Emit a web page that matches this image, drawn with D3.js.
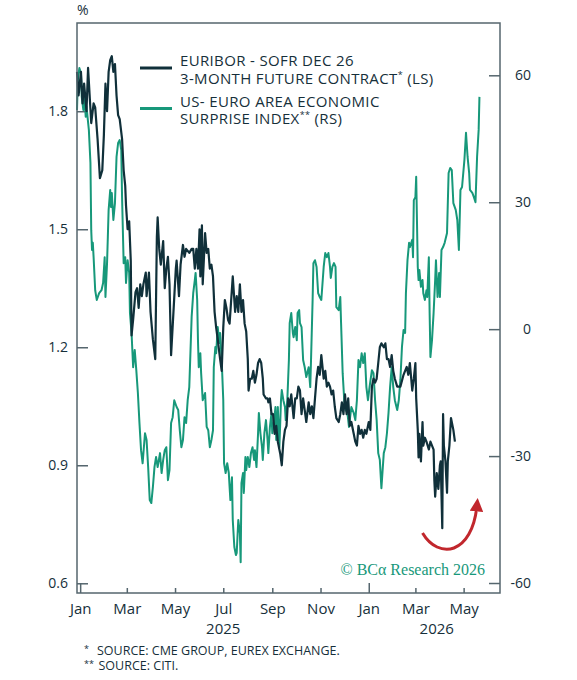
<!DOCTYPE html>
<html>
<head>
<meta charset="utf-8">
<script src="https://cdn.jsdelivr.net/npm/d3@7"></script>
<style>
  body { margin: 0; background: #fff; }
  text { font-family: "Open Sans", "Noto Sans", sans-serif; fill: #162f3a; }
</style>
</head>
<body>
<div id="chart"></div>
<script>
// EURIBOR - SOFR Dec 26 3-month future spread, % (left scale)
var spreadSeries = [
["2024-12-28",1.90],["2024-12-30",1.84],["2025-01-02",1.90],["2025-01-04",1.82],["2025-01-06",1.87],["2025-01-09",1.80],["2025-01-11",1.91],["2025-01-13",1.84],["2025-01-15",1.77],["2025-01-18",1.82],["2025-01-20",1.81],["2025-01-23",1.73],["2025-01-26",1.63],["2025-01-29",1.65],["2025-01-31",1.74],["2025-02-02",1.87],["2025-02-04",1.80],["2025-02-06",1.90],["2025-02-08",1.93],["2025-02-10",1.94],["2025-02-12",1.90],["2025-02-14",1.92],["2025-02-16",1.84],["2025-02-18",1.79],["2025-02-20",1.78],["2025-02-23",1.73],["2025-02-25",1.65],["2025-02-27",1.61],["2025-02-28",1.56],["2025-03-02",1.50],["2025-03-04",1.52],["2025-03-06",1.42],["2025-03-07",1.23],["2025-03-09",1.27],["2025-03-12",1.34],["2025-03-14",1.35],["2025-03-16",1.30],["2025-03-18",1.36],["2025-03-20",1.33],["2025-03-22",1.36],["2025-03-25",1.39],["2025-03-26",1.33],["2025-03-29",1.39],["2025-03-31",1.29],
["2025-04-03",1.22],["2025-04-06",1.17],["2025-04-08",1.48],["2025-04-09",1.53],["2025-04-11",1.45],["2025-04-13",1.41],["2025-04-16",1.47],["2025-04-18",1.35],["2025-04-20",1.40],["2025-04-22",1.43],["2025-04-24",1.36],["2025-04-26",1.18],["2025-05-02",1.40],["2025-05-03",1.42],["2025-05-06",1.33],["2025-05-08",1.41],["2025-05-11",1.46],["2025-05-13",1.43],["2025-05-15",1.45],["2025-05-19",1.44],["2025-05-22",1.45],["2025-05-24",1.45],["2025-05-26",1.40],["2025-05-28",1.45],["2025-05-30",1.40],["2025-06-01",1.50],["2025-06-02",1.38],["2025-06-04",1.51],["2025-06-05",1.36],["2025-06-08",1.49],["2025-06-10",1.44],["2025-06-12",1.45],["2025-06-14",1.40],["2025-06-16",1.41],["2025-06-18",1.38],["2025-06-20",1.29],["2025-06-22",1.25],["2025-06-24",1.22],["2025-06-27",1.17],["2025-06-29",1.14],
["2025-07-01",1.25],["2025-07-03",1.32],["2025-07-05",1.30],["2025-07-07",1.27],["2025-07-09",1.26],["2025-07-11",1.32],["2025-07-13",1.38],["2025-07-16",1.29],["2025-07-18",1.33],["2025-07-20",1.29],["2025-07-22",1.36],["2025-07-24",1.29],["2025-07-26",1.32],["2025-07-28",1.26],["2025-07-30",1.24],["2025-08-01",1.17],["2025-08-02",1.09],["2025-08-04",1.12],["2025-08-06",1.12],["2025-08-08",1.14],["2025-08-10",1.11],["2025-08-12",1.13],["2025-08-14",1.16],["2025-08-16",1.17],["2025-08-18",1.16],["2025-08-20",1.12],["2025-08-21",1.08],["2025-08-24",1.07],["2025-08-26",1.07],["2025-08-27",1.06],["2025-08-29",1.07],["2025-08-31",1.03],["2025-09-02",1.03],["2025-09-04",0.98],["2025-09-06",1.00],["2025-09-08",0.96],["2025-09-11",0.93],["2025-09-13",0.90],["2025-09-15",0.96],["2025-09-17",0.99],["2025-09-19",1.00],["2025-09-21",1.07],["2025-09-23",1.05],["2025-09-25",1.08],["2025-09-28",1.02],["2025-09-30",1.07],
["2025-10-02",1.07],["2025-10-04",1.10],["2025-10-06",1.09],["2025-10-08",1.03],["2025-10-10",1.07],["2025-10-12",1.04],["2025-10-14",1.01],["2025-10-17",1.06],["2025-10-19",1.03],["2025-10-21",1.05],["2025-10-23",1.02],["2025-10-25",1.07],["2025-10-27",1.12],["2025-10-29",1.15],["2025-10-31",1.13],["2025-11-02",1.18],["2025-11-05",1.12],["2025-11-07",1.14],["2025-11-09",1.10],["2025-11-11",1.11],["2025-11-13",1.10],["2025-11-15",1.08],["2025-11-17",1.09],["2025-11-19",1.05],["2025-11-21",1.02],["2025-11-24",1.01],["2025-11-26",1.03],["2025-11-28",1.06],["2025-11-30",1.03],["2025-12-02",1.08],["2025-12-04",1.03],["2025-12-06",1.07],["2025-12-08",1.00],["2025-12-10",1.01],["2025-12-13",0.98],["2025-12-15",0.96],["2025-12-17",0.95],["2025-12-19",1.00],["2025-12-21",0.98],["2025-12-23",0.99],["2025-12-25",0.97],["2025-12-27",0.99],["2025-12-29",0.98],
["2026-01-01",1.01],["2026-01-03",0.99],["2026-01-05",1.10],["2026-01-07",1.12],["2026-01-09",1.11],["2026-01-11",1.12],["2026-01-13",1.16],["2026-01-15",1.20],["2026-01-17",1.21],["2026-01-20",1.20],["2026-01-22",1.21],["2026-01-24",1.17],["2026-01-26",1.17],["2026-01-28",1.15],["2026-01-30",1.18],["2026-02-01",1.14],["2026-02-03",1.12],["2026-02-06",1.10],["2026-02-08",1.10],["2026-02-10",1.10],["2026-02-14",1.13],["2026-02-16",1.14],["2026-02-18",1.15],["2026-02-20",1.13],["2026-02-22",1.16],["2026-02-25",1.09],["2026-02-27",1.12],["2026-03-01",1.16],["2026-03-02",1.07],["2026-03-04",0.99],["2026-03-05",0.92],["2026-03-06",0.98],["2026-03-08",0.91],["2026-03-10",1.01],["2026-03-11",0.95],["2026-03-13",0.97],["2026-03-15",0.96],["2026-03-18",0.94],["2026-03-20",0.96],["2026-03-22",0.95],["2026-03-24",0.94],["2026-03-25",0.86],["2026-03-26",0.82],["2026-03-28",0.88],["2026-03-30",0.84],["2026-04-01",0.90],["2026-04-02",0.91],["2026-04-04",0.74],["2026-04-05",1.03],["2026-04-06",0.95],["2026-04-08",0.91],["2026-04-10",0.83],["2026-04-11",0.91],["2026-04-13",0.95],["2026-04-15",1.02],["2026-04-17",1.00],["2026-04-18",0.99],["2026-04-20",0.96]
];

// US - Euro area economic surprise index (right scale)
var surpriseSeries = [
["2024-12-28",51.8],["2024-12-29",58.9],["2024-12-31",61.7],["2025-01-02",60.5],["2025-01-03",54.9],["2025-01-05",51.8],["2025-01-06",56.5],["2025-01-08",50.2],["2025-01-09",52.6],["2025-01-12",47.1],["2025-01-14",39.3],["2025-01-15",23.4],["2025-01-16",18.7],["2025-01-17",20.4],["2025-01-18",17.0],["2025-01-20",9.2],["2025-01-22",6.9],["2025-01-25",8.5],["2025-01-28",9.2],["2025-01-30",10.9],["2025-02-01",17.0],["2025-02-02",7.6],["2025-02-04",15.6],["2025-02-05",21.8],["2025-02-06",28.2],["2025-02-08",32.9],["2025-02-09",28.9],["2025-02-10",32.2],["2025-02-12",25.8],["2025-02-14",29.8],["2025-02-16",40.7],["2025-02-18",44.0],["2025-02-20",44.7],["2025-02-22",42.3],["2025-02-23",31.2],["2025-02-25",15.6],["2025-02-27",17.0],["2025-02-28",10.9],["2025-03-02",16.3],["2025-03-04",13.3],["2025-03-05",3.8],["2025-03-07",-0.9],["2025-03-09",-9.0],["2025-03-11",-4.9],["2025-03-13",-9.7],["2025-03-15",-15.1],["2025-03-17",-22.2],["2025-03-19",-28.6],["2025-03-21",-31.7],["2025-03-24",-24.6],["2025-03-26",-26.2],["2025-03-28",-32.6],["2025-03-30",-40.4],
["2025-04-01",-41.1],["2025-04-03",-37.3],["2025-04-05",-32.6],["2025-04-07",-30.2],["2025-04-09",-32.6],["2025-04-12",-29.3],["2025-04-14",-34.0],["2025-04-16",-30.9],["2025-04-18",-28.6],["2025-04-20",-27.9],["2025-04-22",-35.7],["2025-04-24",-33.3],["2025-04-26",-22.2],["2025-04-28",-20.8],["2025-04-30",-16.8],["2025-05-03",-18.4],["2025-05-05",-19.1],["2025-05-07",-23.9],["2025-05-09",-27.9],["2025-05-11",-26.2],["2025-05-13",-20.8],["2025-05-15",-22.2],["2025-05-17",-16.8],["2025-05-19",-13.7],["2025-05-22",2.9],["2025-05-24",8.5],["2025-05-26",11.6],["2025-05-27",13.3],["2025-05-29",6.9],["2025-05-30",-2.6],["2025-05-31",-9.0],["2025-06-02",-5.7],["2025-06-03",-10.4],["2025-06-05",-16.8],["2025-06-08",-15.1],["2025-06-10",-23.1],["2025-06-12",-23.9],["2025-06-14",-27.9],["2025-06-16",-26.2],["2025-06-18",-23.9],["2025-06-19",-9.0],["2025-06-21",-4.2],["2025-06-22",-5.7],["2025-06-24",0.5],["2025-06-26",-3.3],["2025-06-27",-0.9],["2025-06-29",-7.3],
["2025-07-01",-16.8],["2025-07-02",-31.7],["2025-07-04",-34.0],["2025-07-06",-31.7],["2025-07-08",-34.0],["2025-07-09",-37.3],["2025-07-10",-40.4],["2025-07-12",-35.0],["2025-07-13",-45.1],["2025-07-15",-51.5],["2025-07-17",-53.4],["2025-07-18",-52.9],["2025-07-20",-45.1],["2025-07-22",-48.2],["2025-07-23",-55.1],["2025-07-24",-36.4],["2025-07-26",-34.0],["2025-07-27",-38.7],["2025-07-29",-30.2],["2025-07-30",-33.3],["2025-08-01",-30.2],["2025-08-03",-32.6],["2025-08-05",-29.3],["2025-08-07",-27.9],["2025-08-09",-30.9],["2025-08-10",-28.6],["2025-08-12",-32.6],["2025-08-14",-24.6],["2025-08-15",-19.8],["2025-08-17",-24.6],["2025-08-19",-27.9],["2025-08-20",-30.9],["2025-08-22",-24.6],["2025-08-24",-21.5],["2025-08-26",-26.2],["2025-08-27",-29.3],["2025-08-29",-23.1],["2025-08-31",-19.8],["2025-09-01",-24.6],["2025-09-03",-22.2],["2025-09-05",-18.4],["2025-09-06",-26.2],["2025-09-08",-18.4],["2025-09-10",-27.9],["2025-09-12",-16.8],["2025-09-13",-14.4],["2025-09-15",-16.8],["2025-09-17",-18.4],["2025-09-18",-21.5],["2025-09-20",-16.8],["2025-09-22",-7.3],["2025-09-23",1.4],["2025-09-25",3.8],["2025-09-27",-0.9],["2025-09-28",-1.9],["2025-09-30",0.5],
["2025-10-02",-2.6],["2025-10-03",3.8],["2025-10-05",4.5],["2025-10-06",1.4],["2025-10-08",0.5],["2025-10-10",-7.3],["2025-10-12",-9.0],["2025-10-14",-11.3],["2025-10-17",-9.0],["2025-10-19",-13.7],["2025-10-20",-7.3],["2025-10-22",6.9],["2025-10-23",15.6],["2025-10-25",16.3],["2025-10-27",14.7],["2025-10-29",8.5],["2025-10-31",7.6],["2025-11-02",6.9],["2025-11-05",14.7],["2025-11-07",18.0],["2025-11-09",17.0],["2025-11-11",18.0],["2025-11-13",14.7],["2025-11-14",12.1],["2025-11-16",14.7],["2025-11-18",15.6],["2025-11-20",14.7],["2025-11-21",5.2],["2025-11-24",4.5],["2025-11-26",7.6],["2025-11-27",1.4],["2025-11-29",-10.4],["2025-12-01",-16.8],["2025-12-03",-19.1],["2025-12-05",-19.8],["2025-12-07",-23.1],["2025-12-08",-21.5],["2025-12-10",-18.4],["2025-12-13",-19.8],["2025-12-15",-21.5],["2025-12-17",-16.8],["2025-12-19",-7.3],["2025-12-21",-9.0],["2025-12-23",-5.7],["2025-12-25",-8.0],["2025-12-27",-5.7],["2025-12-29",-13.7],["2025-12-31",-16.8],
["2026-01-02",-13.7],["2026-01-05",-9.7],["2026-01-07",-10.4],["2026-01-09",-16.8],["2026-01-11",-21.5],["2026-01-13",-29.3],["2026-01-15",-30.9],["2026-01-17",-37.6],["2026-01-20",-29.3],["2026-01-22",-27.9],["2026-01-24",-24.6],["2026-01-26",-19.8],["2026-01-28",-13.7],["2026-01-30",-9.0],["2026-02-01",-13.7],["2026-02-03",-16.8],["2026-02-06",-19.1],["2026-02-08",-16.8],["2026-02-10",-12.0],["2026-02-12",-4.2],["2026-02-14",-0.2],["2026-02-16",-0.9],["2026-02-17",8.5],["2026-02-19",16.3],["2026-02-21",20.4],["2026-02-22",19.4],["2026-02-25",21.1],["2026-02-26",17.0],["2026-02-27",30.5],["2026-03-01",31.2],["2026-03-02",36.0],["2026-03-04",14.7],["2026-03-05",11.6],["2026-03-06",14.0],["2026-03-08",10.0],["2026-03-10",11.6],["2026-03-11",8.5],["2026-03-13",6.9],["2026-03-15",9.2],["2026-03-16",7.6],["2026-03-18",17.0],["2026-03-19",3.8],["2026-03-20",-6.6],["2026-03-22",-2.6],["2026-03-24",3.8],["2026-03-26",11.6],["2026-03-27",16.3],["2026-03-29",7.6],["2026-03-31",13.3],
["2026-04-01",7.6],["2026-04-03",18.7],["2026-04-05",19.4],["2026-04-07",20.4],["2026-04-10",22.7],["2026-04-12",36.9],["2026-04-14",38.1],["2026-04-16",37.6],["2026-04-18",29.8],["2026-04-21",28.2],["2026-04-23",25.8],["2026-04-25",18.7],["2026-04-27",32.9],["2026-04-29",33.6],["2026-05-02",40.0],["2026-05-04",46.4],["2026-05-06",40.7],["2026-05-08",36.9],["2026-05-09",32.9],["2026-05-12",32.2],["2026-05-14",31.2],["2026-05-16",30.0],["2026-05-18",40.7],["2026-05-20",47.1],["2026-05-21",54.9]
];

var leftTicks = [0.6, 0.9, 1.2, 1.5, 1.8];
var rightTicks = [-60, -30, 0, 30, 60];
var yearLabels = [["2025-07-01", "2025"], ["2026-03-28", "2026"]];
var legendLines = [
  ["EURIBOR - SOFR DEC 26", "3-MONTH FUTURE CONTRACT", "*", " (LS)"],
  ["US- EURO AREA ECONOMIC", "SURPRISE INDEX", "**", " (RS)"]
];
var footnotes = [["*", "SOURCE: CME GROUP, EUREX EXCHANGE."], ["**", "SOURCE: CITI."]];
// annotation arrow, in data units (date, left scale)
var arrowPoints = [["2026-03-10", 0.728], ["2026-03-30", 0.66], ["2026-05-12", 0.67], ["2026-05-18", 0.80]];

var darkColor = "#10303a", greenColor = "#17987a", frameColor = "#55666e", arrowColor = "#c1272d";

var margin = {top: 23, right: 77, bottom: 87, left: 77},
width = 577 - margin.left - margin.right,
height = 680 - margin.top - margin.bottom;

var parse = d3.timeParse("%Y-%m-%d");

var svg = d3.select("#chart")
.append("svg")
.attr("width", 577)
.attr("height", 680);

var g = svg.append("g")
.attr("transform", "translate(" + margin.left + "," + margin.top + ")");

var x = d3.scaleTime()
.domain([parse("2024-12-28"), parse("2026-06-16")])
.range([0, width]);
var y = d3.scaleLinear()
.domain([0.5753, 2.0243])
.range([height, 0]);
var y2 = d3.scaleLinear()
.domain([-62.36, 72.36])
.range([height, 0]);

// left axis, ticks pointing inward
var leftAxis = g.append("g")
.call(d3.axisLeft(y).tickValues(leftTicks).tickSize(-11).tickPadding(9).tickFormat(d3.format(".1f")));
leftAxis.select(".domain").remove();

// right axis, labels right aligned like the original
var rightAxis = g.append("g")
.attr("transform", "translate(" + width + ",0)")
.call(d3.axisRight(y2).tickValues(rightTicks).tickSize(-11).tickPadding(31)
  .tickFormat(function(d) { return String(d); }));
rightAxis.select(".domain").remove();
rightAxis.selectAll(".tick text").attr("text-anchor", "end");

var monthTicks = d3.timeMonth.every(2).range(parse("2025-01-01"), parse("2026-06-02"));
var bottomAxis = g.append("g")
.attr("transform", "translate(0," + height + ")")
.call(d3.axisBottom(x).tickValues(monthTicks).tickSize(-5).tickPadding(10).tickFormat(d3.timeFormat("%b")));
bottomAxis.select(".domain").remove();
// january ticks are longer
bottomAxis.selectAll(".tick line")
.attr("y2", function(d) { return d.getMonth() == 0 ? -10 : -5; });

[leftAxis, rightAxis, bottomAxis].forEach(function(a) {
     a.selectAll(".tick line").attr("stroke", frameColor).attr("stroke-width", 1.5);
     a.selectAll(".tick text").style("font-size", "14px").style("fill", "#162f3a").style("font-family", "'Open Sans', sans-serif");
});
bottomAxis.selectAll(".tick text").style("font-size", "15px");

// year labels
g.selectAll(".year")
.data(yearLabels).enter()
.append("text")
.attr("x", function(d) { return x(parse(d[0])); })
.attr("y", height + 41)
.attr("text-anchor", "middle")
.style("font-size", "15px")
.text(function(d) { return d[1]; });

// lines
var lineDark = d3.line()
.x(function(d) { return x(parse(d[0])); })
.y(function(d) { return y(d[1]); });
var lineGreen = d3.line()
.x(function(d) { return x(parse(d[0])); })
.y(function(d) { return y2(d[1]); });

g.append("path")
.datum(surpriseSeries)
.attr("d", lineGreen)
.style("fill", "none")
.style("stroke", greenColor)
.style("stroke-width", 2)
.style("stroke-linejoin", "round");

g.append("path")
.datum(spreadSeries)
.attr("d", lineDark)
.style("fill", "none")
.style("stroke", darkColor)
.style("stroke-width", 2.2)
.style("stroke-linejoin", "round");

// frame
g.append("rect")
.attr("width", width)
.attr("height", height)
.style("fill", "none")
.style("stroke", frameColor)
.style("stroke-width", 1.5);

// "%" unit
svg.append("text")
.attr("x", 77)
.attr("y", 15)
.style("font-size", "14px")
.text("%");

// legend
var legend = g.append("g").attr("transform", "translate(63,0)");
legend.selectAll(".swatch")
.data([darkColor, greenColor]).enter()
.append("line")
.attr("x1", 0).attr("x2", 32)
.attr("y1", function(d, i) { return 45 + i * 40.5; })
.attr("y2", function(d, i) { return 45 + i * 40.5; })
.style("stroke", function(d) { return d; })
.style("stroke-width", 3);

legendLines.forEach(function(l, i) {
     legend.append("text")
     .attr("x", 40)
     .attr("y", 43 + i * 40.5)
     .style("font-size", "15px")
     .style("letter-spacing", "0.35px")
     .text(l[0]);
     var t2 = legend.append("text")
     .attr("x", 40)
     .attr("y", 60.5 + i * 40.5)
     .style("font-size", "15px")
     .style("letter-spacing", "0.35px");
     t2.append("tspan").text(l[1]);
     t2.append("tspan").text(l[2]).style("font-size", "9px").attr("dy", -6);
     t2.append("tspan").text(l[3]).attr("dy", 6);
});

// watermark
g.append("text")
.attr("x", width - 15)
.attr("y", height - 18)
.attr("text-anchor", "end")
.style("font-family", "'Liberation Serif', 'DejaVu Serif', serif")
.style("font-size", "16px")
.style("fill", greenColor)
.text("© BCα Research 2026");

// red arrow
svg.append("defs").append("marker")
.attr("id", "head")
.attr("viewBox", "0 0 10 10")
.attr("refX", 5).attr("refY", 5)
.attr("markerWidth", 4.5).attr("markerHeight", 4.5)
.attr("orient", "auto")
.append("path")
.attr("d", "M0,0 L10,5 L0,10 Z")
.style("fill", arrowColor);

var ap = arrowPoints.map(function(d) { return [x(parse(d[0])), y(d[1])]; });
g.append("path")
.attr("d", "M" + ap[0] + "C" + ap[1] + " " + ap[2] + " " + ap[3])
.style("fill", "none")
.style("stroke", arrowColor)
.style("stroke-width", 3)
.attr("marker-end", "url(#head)");

// footnotes
footnotes.forEach(function(f, i) {
     svg.append("text")
     .attr("x", 84)
     .attr("y", 652 + i * 15)
     .style("font-size", "9px")
     .text(f[0]);
     svg.append("text")
     .attr("x", 97 + i * 1.5)
     .attr("y", 655 + i * 15)
     .style("font-size", "12.5px")
     .text(f[1]);
});
</script>
</body>
</html>
